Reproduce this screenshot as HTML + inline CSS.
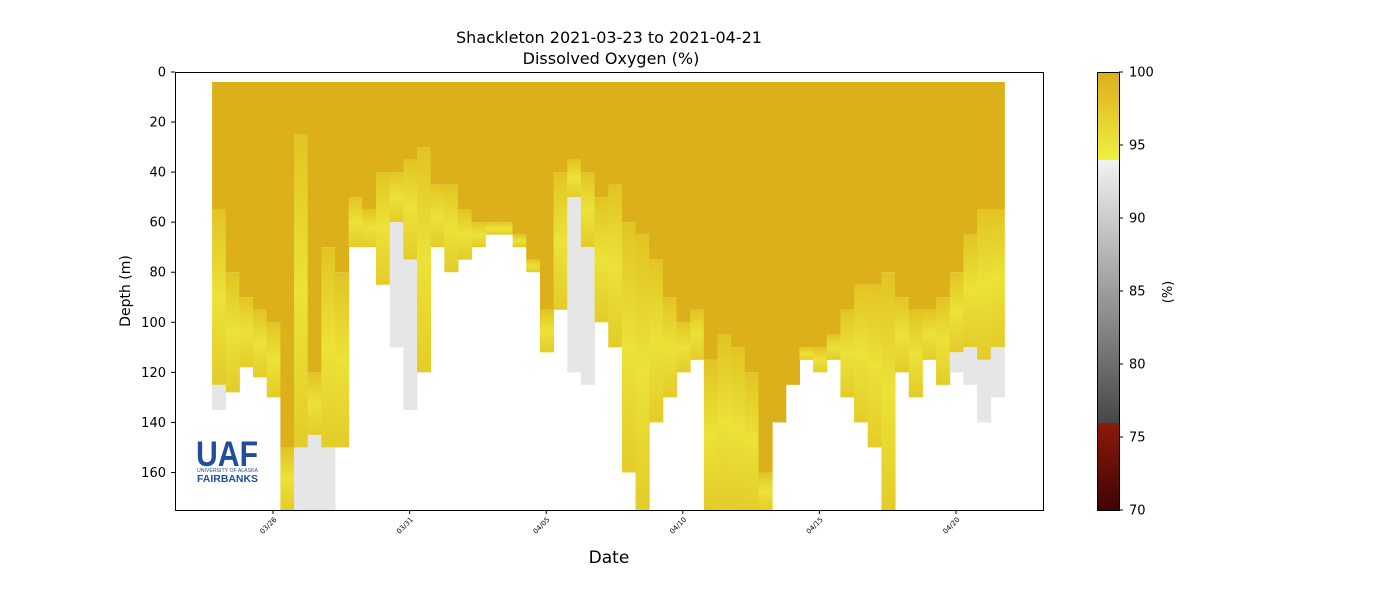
<!DOCTYPE html>
<html><head><meta charset="utf-8">
<style>
html,body{margin:0;padding:0;background:#fff;}
svg{display:block;font-family:"DejaVu Sans","Liberation Sans",sans-serif;}
</style></head>
<body>
<svg id="chart" width="1400" height="600" viewBox="0 0 1400 600" xmlns="http://www.w3.org/2000/svg">
<defs>
<linearGradient id="cbar" x1="0" y1="0" x2="0" y2="1">
<stop offset="0" stop-color="#dcae1c"/>
<stop offset="0.2" stop-color="#f0f040"/>
<stop offset="0.2" stop-color="#f2f2f2"/>
<stop offset="0.8" stop-color="#474747"/>
<stop offset="0.8" stop-color="#8c1a0a"/>
<stop offset="1" stop-color="#3e0404"/>
</linearGradient>
<linearGradient id="yel" x1="0" y1="0" x2="0" y2="1">
<stop offset="0" stop-color="#e2c424"/>
<stop offset="0.5" stop-color="#ece238"/>
<stop offset="1" stop-color="#e4cc2a"/>
</linearGradient>
</defs>
<text x="609" y="43" font-size="16" text-anchor="middle">Shackleton 2021-03-23 to 2021-04-21</text>
<text x="611" y="64" font-size="16" text-anchor="middle">Dissolved Oxygen (%)</text>
<g id="marks"></g>
<rect x="175.5" y="72.5" width="868" height="438" fill="none" stroke="#000" stroke-width="1"/>
<g id="yaxis"></g>
<g id="xaxis"></g>
<text x="130" y="291" font-size="14" text-anchor="middle" transform="rotate(-90 130 291)">Depth (m)</text>
<text x="609" y="563" font-size="17" text-anchor="middle">Date</text>
<g fill="#1f4e9c">
<text x="196" y="466" font-size="35" font-weight="bold" font-family="Liberation Sans, sans-serif" textLength="62" lengthAdjust="spacingAndGlyphs">UAF</text>
<text x="197" y="472" font-size="5" font-family="Liberation Sans, sans-serif" textLength="61" lengthAdjust="spacingAndGlyphs">UNIVERSITY OF ALASKA</text>
<text x="197" y="482" font-size="10" font-weight="bold" font-family="Liberation Sans, sans-serif" textLength="61" lengthAdjust="spacingAndGlyphs">FAIRBANKS</text>
</g>
<rect x="1097.5" y="72.5" width="22" height="438" fill="url(#cbar)" stroke="#000" stroke-width="1"/>
<g id="cbticks"></g>
<text x="1172" y="292" font-size="13" text-anchor="middle" transform="rotate(-90 1172 292)">(%)</text>
</svg>
<script>
const dayLabels=['03/26','03/31','04/05','04/10','04/15','04/20'];
const dayTicks=[5,10,15,20,25,30];
const depthTicks=[0,20,40,60,80,100,120,140,160];
const cbTicks=[70,75,80,85,90,95,100];
const colStartDay=2.77, colStep=0.5;
const bottomDepth=[135,128,118,122,130,175,175,175,175,150,70,70,85,110,135,120,70,80,75,70,65,65,70,80,112,95,120,125,100,110,160,175,140,130,120,115,175,175,175,175,175,140,125,115,120,115,130,140,150,175,120,130,115,125,120,125,140,130];
const goldDepth=[55,80,90,95,100,150,25,120,70,80,50,55,40,40,35,30,45,45,55,60,60,60,65,75,95,40,35,40,50,45,60,65,75,90,100,95,115,105,110,120,160,140,125,110,110,105,95,85,85,80,90,95,95,90,80,65,55,55];
const grayDepth=[125,0,0,0,0,0,150,145,150,0,0,0,0,60,75,0,0,0,0,0,0,0,0,0,0,0,50,70,0,0,0,0,0,0,0,0,0,0,0,0,0,0,0,0,0,0,0,0,0,0,0,0,0,0,112,110,115,110];
const topDepth=4;
const X=d=>273+(d-5)*27.32;
const Y=m=>72+m*2.503;
const CY=v=>72+(100-v)*438/30;
const NS='http://www.w3.org/2000/svg';
function mk(tag,attrs,parent){const e=document.createElementNS(NS,tag);for(const k in attrs)e.setAttribute(k,attrs[k]);parent.appendChild(e);return e;}
const marks=document.getElementById('marks');
bottomDepth.forEach((b,i)=>{
  const x0=X(colStartDay+i*colStep), x1=X(colStartDay+(i+1)*colStep);
  const g=goldDepth[i], gr=grayDepth[i];
  const yb=Y(Math.min(b,175)), yg=Y(g);
  const yEnd=gr?Y(gr):yb;
  const r1=mk('rect',{x:x0,y:Y(topDepth),width:x1-x0+0.5,height:yg-Y(topDepth),fill:'#dcb01a'},marks);
  
  
  if(yEnd>yg){const r2=mk('rect',{x:x0,y:yg,width:x1-x0+0.5,height:yEnd-yg,fill:'url(#yel)'},marks);
  
  }
  if(gr&&yb>Y(gr)){const r3=mk('rect',{x:x0,y:Y(gr),width:x1-x0+0.5,height:yb-Y(gr),fill:'#e6e6e6'},marks);
  
  }
});
const ya=document.getElementById('yaxis');
depthTicks.forEach(t=>{
  const y=Y(t);
  mk('line',{x1:171,x2:175,y1:y,y2:y,stroke:'#000'},ya);
  const tx=mk('text',{x:166,y:y+4.5,'font-size':13,'text-anchor':'end'},ya);
  tx.textContent=t;
  
  
});
const xa=document.getElementById('xaxis');
dayTicks.forEach((d,i)=>{
  const x=X(d);
  mk('line',{x1:x,x2:x,y1:510,y2:514,stroke:'#000'},xa);
  const tx=mk('text',{x:x+4,y:520,'font-size':7,'text-anchor':'end',transform:`rotate(-45 ${x+4} 520)`},xa);
  tx.textContent=dayLabels[i];
  
  
});
const cb=document.getElementById('cbticks');
cbTicks.forEach(v=>{
  const y=CY(v);
  mk('line',{x1:1119,x2:1123,y1:y,y2:y,stroke:'#000'},cb);
  const tx=mk('text',{x:1129,y:y+4.5,'font-size':13},cb);
  tx.textContent=v;
  
  
});
</script>
</body></html>
